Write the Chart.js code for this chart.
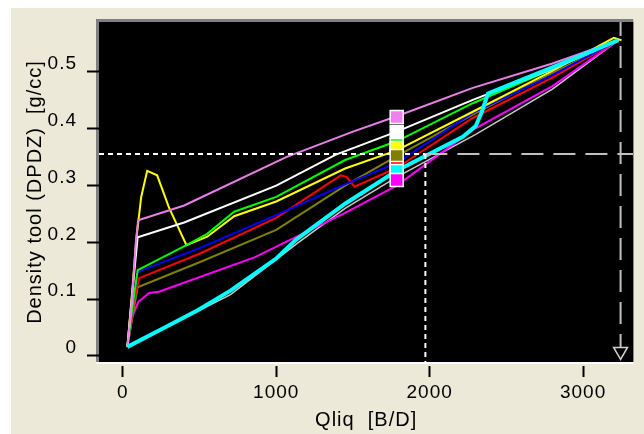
<!DOCTYPE html>
<html>
<head>
<meta charset="utf-8">
<script src="https://cdn.jsdelivr.net/npm/chart.js@4.4.0/dist/chart.umd.min.js"></script>
<style>
  html, body { margin: 0; padding: 0; background: #fff; }
  canvas { display: block; }
</style>
</head>
<body>
<canvas id="c" width="644" height="434"></canvas>
<script>
// axes
const xTicks = [0, 1000, 2000, 3000];
const yTicks = [0, 0.1, 0.2, 0.3, 0.4, 0.5];
const xRange = [-155, 3327];
const yRange = [-0.0106, 0.588];

// curves as [Qliq, density] pairs
const violet = [[30,0.016],[60,0.10],[85,0.20],[100,0.239],[400,0.265],[1065,0.350],[1500,0.395],[1785,0.422],[2281,0.472],[2800,0.515],[3230,0.556]];
const white = [[30,0.016],[65,0.12],[97,0.209],[400,0.235],[1000,0.300],[1385,0.354],[1785,0.395],[2281,0.451],[2800,0.505],[3230,0.556]];
const green = [[30,0.016],[65,0.09],[97,0.151],[415,0.195],[550,0.215],[726,0.254],[1000,0.280],[1449,0.345],[1785,0.378],[2281,0.445],[2800,0.505],[3230,0.556]];
const yellow = [[30,0.016],[60,0.11],[90,0.21],[120,0.28],[159,0.326],[224,0.318],[300,0.262],[415,0.195],[550,0.210],[726,0.246],[1000,0.272],[1449,0.330],[1785,0.362],[2281,0.430],[2800,0.502],[3200,0.560],[3250,0.556]];
const blue = [[30,0.016],[70,0.10],[97,0.148],[500,0.190],[1000,0.248],[1449,0.302],[1785,0.340],[2281,0.428],[2800,0.495],[3230,0.556]];
const red = [[30,0.016],[75,0.10],[107,0.137],[500,0.180],[1000,0.243],[1420,0.318],[1460,0.315],[1510,0.298],[1785,0.331],[2281,0.419],[2800,0.490],[3230,0.556]];
const olive = [[30,0.016],[70,0.08],[97,0.121],[500,0.165],[1000,0.222],[1449,0.300],[1785,0.352],[2281,0.425],[2800,0.498],[3230,0.556]];
const magenta = [[30,0.016],[62,0.069],[100,0.095],[172,0.111],[236,0.113],[862,0.174],[1449,0.252],[1785,0.300],[2281,0.398],[2800,0.475],[3230,0.556]];
const cyan = [[30,0.016],[280,0.051],[491,0.081],[702,0.115],[1002,0.172],[1130,0.205],[1449,0.268],[1785,0.326],[2216,0.386],[2300,0.405],[2340,0.430],[2380,0.462],[2800,0.508],[3230,0.556]];
const gray = [[30,0.016],[702,0.108],[1130,0.197],[1449,0.260],[1785,0.315],[2300,0.390],[2800,0.470],[3230,0.556]];

// cursor lines
const cursorX = 1972, cursorY = 0.3556;
const endX = 3244, arrowY = 0.008;

// marker column
const markX = 1785;
const markY = [0.4208, 0.3944, 0.3715, 0.3662, 0.3521, 0.3310, 0.3257, 0.3099];
const markColors = ['#F080F0', '#FFFFFF', '#00FF00', '#FFFF00', '#808000', '#FF0000', '#00FFFF', '#FF00FF'];

const toXY = arr => arr.map(p => ({ x: p[0], y: p[1] }));

function curve(pts, col, w) {
    return { data: toXY(pts), borderColor: col, borderWidth: w, pointRadius: 0, tension: 0 };
}

let ds = [];
// marker squares, one dataset each so later ones sit on top of earlier ones
for (let i = markY.length - 1; i >= 0; i--) {
    ds.push({ data: [{ x: markX, y: markY[i] }], showLine: false, pointStyle: 'rect', pointRadius: 9.2,
        backgroundColor: markColors[i], borderColor: '#fff', borderWidth: 1.5 });
}
ds.push({ data: [{ x: endX, y: arrowY }], showLine: false, pointStyle: 'triangle', rotation: 180, pointRadius: 8,
    backgroundColor: '#000', borderColor: '#d0d0d0', borderWidth: 1.5 });
ds.push({ data: [{ x: xRange[0], y: cursorY }, { x: cursorX, y: cursorY }], borderColor: '#fff', borderWidth: 2, borderDash: [5, 4], pointRadius: 0 });
ds.push({ data: [{ x: cursorX, y: cursorY }, { x: cursorX, y: yRange[0] }], borderColor: '#fff', borderWidth: 2, borderDash: [5, 4], pointRadius: 0 });
ds.push({ data: [{ x: cursorX, y: cursorY }, { x: xRange[1], y: cursorY }], borderColor: '#c0c0c0', borderWidth: 2, borderDash: [22, 10], pointRadius: 0 });
ds.push({ data: [{ x: endX, y: yRange[1] }, { x: endX, y: yRange[0] }], borderColor: '#c0c0c0', borderWidth: 2, borderDash: [22, 10], borderDashOffset: 8, pointRadius: 0 });
ds.push(curve(cyan, '#00FFFF', 4));
ds.push(curve(violet, '#E880E8', 2));
ds.push(curve(white, '#FFFFFF', 2));
ds.push(curve(green, '#00FF00', 2));
ds.push(curve(yellow, '#FFFF00', 2));
ds.push(curve(blue, '#0000FF', 2));
ds.push(curve(red, '#FF0000', 2));
ds.push(curve(olive, '#808000', 2));
ds.push(curve(magenta, '#FF00FF', 2));
ds.push(curve(gray, '#C8C8C8', 1.5));

const frame = {
    id: 'frame',
    beforeDraw(c) {
        let g = c.ctx, a = c.chartArea;
        g.save();
        g.fillStyle = '#fff';
        g.fillRect(0, 0, c.width, c.height);
        g.fillStyle = '#ECE9D8';
        g.fillRect(11, 8, c.width - 11, c.height - 8);
        g.fillStyle = '#808080';
        g.fillRect(a.left - 3, a.top - 3, a.right - a.left + 3, a.bottom - a.top + 3);
        g.fillStyle = '#fff';
        g.fillRect(a.left - 3, a.bottom, a.right - a.left + 3, 2);
        g.fillStyle = '#000';
        g.fillRect(a.left, a.top, a.right - a.left, a.bottom - a.top);
        g.restore();
        g.letterSpacing = '1px';
    }
};

const fnt = "'Liberation Sans', Arial, sans-serif";

new Chart(document.getElementById('c'), {
    type: 'line',
    data: { datasets: ds },
    plugins: [frame],
    options: {
        responsive: false,
        animation: false,
        layout: { padding: { top: 22, left: 0, right: 0, bottom: 0 } },
        plugins: { legend: { display: false }, tooltip: { enabled: false } },
        scales: {
            x: {
                type: 'linear', min: xRange[0], max: xRange[1],
                afterBuildTicks: s => { s.ticks = xTicks.map(v => ({ value: v })); },
                afterFit: s => { s.height = 72; },
                border: { display: false },
                grid: { drawOnChartArea: false, tickLength: 15, tickColor: '#000', tickWidth: 2,
                    tickBorderDash: [11, 4], tickBorderDashOffset: 11 },
                ticks: { color: '#000', font: { family: fnt, size: 19 }, padding: 4, maxRotation: 0,
                    callback: v => String(v) },
                title: { display: true, text: 'Qliq  [B/D]', color: '#000', font: { family: fnt, size: 20, lineHeight: 1.2 },
                    padding: { top: 0, bottom: 2 } }
            },
            y: {
                type: 'linear', min: yRange[0], max: yRange[1],
                afterBuildTicks: s => { s.ticks = yTicks.map(v => ({ value: v })); },
                afterFit: s => { s.width = 99; },
                border: { display: false },
                grid: { drawOnChartArea: false, tickLength: 16, tickColor: '#000', tickWidth: 2,
                    tickBorderDash: [12, 4], tickBorderDashOffset: 12 },
                ticks: { color: '#000', font: { family: fnt, size: 19 }, padding: 6, labelOffset: -8,
                    callback: v => v === 0 ? '0' : v.toFixed(1) },
                title: { display: true, text: 'Density tool (DPDZ)  [g/cc]', color: '#000', font: { family: fnt, size: 20, lineHeight: 1.2 },
                    padding: { top: 23, bottom: 0 } }
            }
        }
    }
});
</script>
</body>
</html>
